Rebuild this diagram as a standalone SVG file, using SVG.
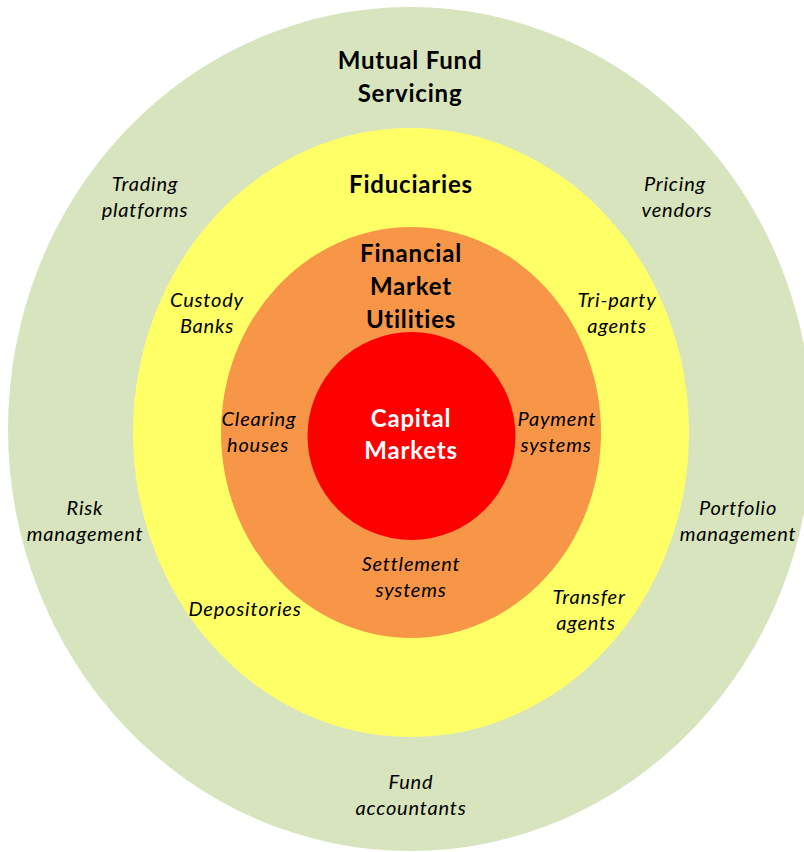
<svg xmlns="http://www.w3.org/2000/svg" width="804" height="852" viewBox="0 0 804 852">
<style>
.h{font-family:Lato,"Open Sans","Liberation Sans",sans-serif;font-weight:bold;font-size:24px;letter-spacing:0.8px;fill:#000;text-anchor:middle}
.w{fill:#fff}
.l{font-family:Lato,"Open Sans","Liberation Sans",sans-serif;font-style:italic;font-size:20px;letter-spacing:0.8px;fill:#000;text-anchor:middle}
</style>
<rect width="804" height="852" fill="#fff"/>
<g id="mutual-fund-servicing">
<ellipse cx="410" cy="429" rx="402" ry="422" fill="#d7e4bd"/>
<text class="h" x="410" y="69">Mutual Fund</text>
<text class="h" x="410" y="102">Servicing</text>
<text class="l" x="145" y="191">Trading</text>
<text class="l" x="145" y="217">platforms</text>
<text class="l" x="675" y="191">Pricing</text>
<text class="l" x="677" y="217">vendors</text>
<text class="l" x="85" y="515">Risk</text>
<text class="l" x="85" y="541">management</text>
<text class="l" x="738" y="515">Portfolio</text>
<text class="l" x="738" y="541">management</text>
<text class="l" x="411" y="789">Fund</text>
<text class="l" x="411" y="815">accountants</text>
</g>
<g id="fiduciaries">
<ellipse cx="411" cy="432.5" rx="278" ry="304.5" fill="#ffff66"/>
<text class="h" x="411" y="193">Fiduciaries</text>
<text class="l" x="207" y="307">Custody</text>
<text class="l" x="207" y="333">Banks</text>
<text class="l" x="617" y="307">Tri-party</text>
<text class="l" x="617" y="333">agents</text>
<text class="l" x="245" y="616">Depositories</text>
<text class="l" x="589" y="604">Transfer</text>
<text class="l" x="586" y="630">agents</text>
</g>
<g id="financial-market-utilities">
<ellipse cx="411" cy="432.5" rx="190" ry="205.5" fill="#f79646"/>
<text class="h" x="411" y="262">Financial</text>
<text class="h" x="411" y="295">Market</text>
<text class="h" x="411" y="328">Utilities</text>
<text class="l" x="259" y="426">Clearing</text>
<text class="l" x="258" y="452">houses</text>
<text class="l" x="557" y="426">Payment</text>
<text class="l" x="556" y="452">systems</text>
<text class="l" x="411" y="571">Settlement</text>
<text class="l" x="411" y="597">systems</text>
</g>
<g id="capital-markets">
<ellipse cx="411.5" cy="436" rx="104" ry="104" fill="#ff0000"/>
<text class="h w" x="411" y="427">Capital</text>
<text class="h w" x="411" y="459">Markets</text>
</g>
<g id="connectors"/>
</svg>
